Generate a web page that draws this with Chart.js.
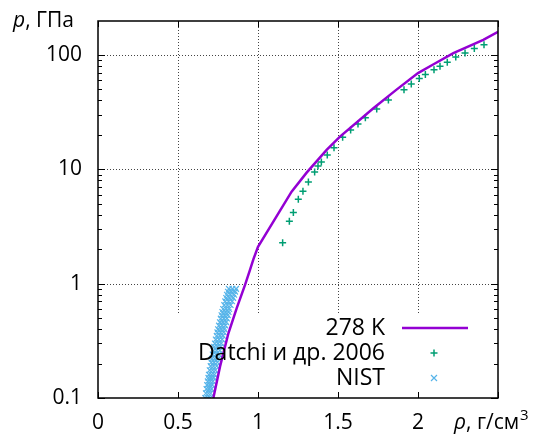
<!DOCTYPE html>
<html>
<head>
<meta charset="utf-8">
<script src="https://cdn.jsdelivr.net/npm/chart.js@4.4.1/dist/chart.umd.min.js"></script>
<style>
html,body{margin:0;padding:0;background:#fff;}
canvas{display:block;}
</style>
</head>
<body>
<canvas id="c" width="542" height="439"></canvas>
<script>
// ---- data ----
const rho278 = [0.721, 0.7625, 0.815, 0.867, 0.919, 0.95, 0.971, 1.0, 1.21, 1.304, 1.429, 1.5125, 1.721, 1.86, 2.0, 2.1, 2.221, 2.408, 2.5];
const p278   = [0.1,   0.188,  0.368, 0.61,  0.975, 1.32, 1.63,  2.1, 6.38, 9.35,  14.8,  19.3,   34.2,  49.0, 69.4, 83.3, 103.8, 135.5, 159];

const datchiRho = [1.154, 1.196, 1.221, 1.252, 1.281, 1.315, 1.354, 1.375, 1.396, 1.433, 1.475, 1.529, 1.579, 1.625, 1.671, 1.742, 1.815, 1.9125, 1.958, 2.008, 2.046, 2.1, 2.1375, 2.183, 2.236, 2.294, 2.352, 2.4125];
const datchiP   = [2.28,  3.52,  4.18,  5.47,  6.43,  7.76,  9.49,  10.7,  11.6,  13.3,  15.4,  19.1,  22.1,  24.9,  28.2,  33.7,  40.4,  49.5,   55.8,  62.2,  67.5,  74.2, 79.8,   86.5,  95.7,  104,   114,   123];

const nistRho = [
  0.670,0.686,0.700, 0.674,0.690,0.705, 0.678,0.694,0.710, 0.682,0.698,0.714, 0.686,0.702,0.718,
  0.690,0.706,0.722, 0.693,0.710,0.727, 0.698,0.716,0.734, 0.704,0.722,0.742, 0.708,0.726,0.746,
  0.712,0.730,0.750, 0.717,0.736,0.756, 0.722,0.741,0.761, 0.726,0.746,0.766, 0.730,0.750,0.770,
  0.736,0.756,0.776, 0.742,0.762,0.781, 0.746,0.766,0.786, 0.750,0.770,0.790, 0.756,0.776,0.796,
  0.762,0.781,0.801, 0.767,0.787,0.806, 0.772,0.792,0.811, 0.777,0.797,0.816, 0.782,0.801,0.820,
  0.789,0.809,0.829, 0.795,0.816,0.838, 0.801,0.822,0.845, 0.806,0.828,0.851, 0.812,0.834,0.857,
  0.818,0.840,0.863
];
const nistP = [
  0.100,0.100,0.100, 0.110,0.110,0.110, 0.120,0.120,0.120, 0.130,0.130,0.130, 0.140,0.140,0.140,
  0.150,0.150,0.150, 0.160,0.160,0.160, 0.175,0.175,0.175, 0.190,0.190,0.190, 0.205,0.205,0.205,
  0.220,0.220,0.220, 0.240,0.240,0.240, 0.260,0.260,0.260, 0.280,0.280,0.280, 0.300,0.300,0.300,
  0.325,0.325,0.325, 0.350,0.350,0.350, 0.375,0.375,0.375, 0.400,0.400,0.400, 0.430,0.430,0.430,
  0.460,0.460,0.460, 0.495,0.495,0.495, 0.530,0.530,0.530, 0.565,0.565,0.565, 0.600,0.600,0.600,
  0.650,0.650,0.650, 0.700,0.700,0.700, 0.750,0.750,0.750, 0.800,0.800,0.800, 0.850,0.850,0.850,
  0.900,0.900,0.900
];

const xTickValues = [0, 0.5, 1, 1.5, 2, 2.5];
const xTickLabels = ['0', '0.5', '1', '1.5', '2', ''];
const yTickValues = [0.1, 1, 10, 100];
const yTickLabels = ['0.1', '1', '10', '100'];
const seriesNames = ['278 K', 'Datchi и др. 2006', 'NIST'];

// ---- styles ----
const FONT = '"Open Sans", "DejaVu Sans", sans-serif';
const PURPLE = '#9400d3', GREEN = '#009e73', BLUE = '#56b4e9';

const toXY = (xs, ys) => xs.map((x, i) => ({x: x, y: ys[i]}));

const framePlugin = {
  id: 'frame',
  beforeDatasetsDraw(chart) {
    const ctx = chart.ctx, a = chart.chartArea;
    const xs = chart.scales.x, ys = chart.scales.y;
    ctx.save();
    ctx.strokeStyle = '#444';
    ctx.lineWidth = 1;
    ctx.setLineDash([1, 2]);
    xTickValues.forEach(v => {
      const px = Math.round(xs.getPixelForValue(v)) + 0.5;
      if (px <= a.left + 1 || px >= a.right - 1) return;
      ctx.beginPath(); ctx.moveTo(px, a.top); ctx.lineTo(px, a.bottom); ctx.stroke();
    });
    yTickValues.forEach(v => {
      const py = Math.round(ys.getPixelForValue(v)) + 0.5;
      if (py <= a.top + 1 || py >= a.bottom - 1) return;
      ctx.beginPath(); ctx.moveTo(a.left, py); ctx.lineTo(a.right, py); ctx.stroke();
    });
    ctx.setLineDash([]);
    // opaque key box
    ctx.fillStyle = '#fff';
    ctx.fillRect(a.left + 3, 315, a.right - a.left - 6, a.bottom - 315 - 1);
    ctx.restore();
  },
  afterDatasetsDraw(chart) {
    const ctx = chart.ctx, a = chart.chartArea;
    const xs = chart.scales.x, ys = chart.scales.y;
    ctx.save();
    ctx.strokeStyle = '#000';
    ctx.lineWidth = 1;
    const decades = [0.1, 1, 10, 100];
    decades.forEach(d => {
      for (let m = 1; m <= 9; m++) {
        const v = d * m;
        if (v > ys.max) continue;
        const py = Math.round(ys.getPixelForValue(v)) + 0.5;
        const len = m === 1 ? 7 : 4;
        ctx.beginPath();
        ctx.moveTo(a.left, py); ctx.lineTo(a.left + len, py);
        ctx.moveTo(a.right, py); ctx.lineTo(a.right - len, py);
        ctx.stroke();
      }
    });
    xTickValues.forEach(v => {
      const px = Math.round(xs.getPixelForValue(v)) + 0.5;
      ctx.beginPath();
      ctx.moveTo(px, a.bottom); ctx.lineTo(px, a.bottom - 6);
      ctx.moveTo(px, a.top); ctx.lineTo(px, a.top + 6);
      ctx.stroke();
    });
    ctx.lineWidth = 1.5;
    ctx.strokeRect(a.left, a.top, a.right - a.left, a.bottom - a.top);

    // key
    ctx.fillStyle = '#000';
    ctx.font = '23px ' + FONT;
    ctx.textAlign = 'right';
    ctx.textBaseline = 'alphabetic';
    const keyX = 385;
    const rows = [335, 360, 385];
    seriesNames.forEach((n, i) => ctx.fillText(n, keyX, rows[i]));
    ctx.strokeStyle = PURPLE; ctx.lineWidth = 2.5;
    ctx.beginPath(); ctx.moveTo(402, 328); ctx.lineTo(468, 328); ctx.stroke();
    ctx.strokeStyle = GREEN; ctx.lineWidth = 1.5;
    ctx.beginPath(); ctx.moveTo(434 - 3.5, 353); ctx.lineTo(434 + 3.5, 353);
    ctx.moveTo(434, 353 - 3.5); ctx.lineTo(434, 353 + 3.5); ctx.stroke();
    ctx.strokeStyle = BLUE; ctx.lineWidth = 1.2;
    ctx.beginPath(); ctx.moveTo(431, 375); ctx.lineTo(437, 381);
    ctx.moveTo(437, 375); ctx.lineTo(431, 381); ctx.stroke();

    // axis titles
    ctx.fillStyle = '#000';
    ctx.textAlign = 'left';
    ctx.font = 'italic 21px ' + FONT;
    let x0 = 13;
    ctx.fillText('p', x0, 27);
    x0 += ctx.measureText('p').width;
    ctx.font = '21px ' + FONT;
    ctx.fillText(', ГПа', x0, 27);

    ctx.font = 'italic 21px ' + FONT;
    x0 = 454;
    ctx.fillText('ρ', x0, 429);
    x0 += ctx.measureText('ρ').width;
    ctx.font = '21px ' + FONT;
    ctx.fillText(', г/см', x0, 429);
    x0 += ctx.measureText(', г/см').width;
    ctx.font = '15px ' + FONT;
    ctx.fillText('3', x0 + 1, 420);
    ctx.restore();
  }
};

new Chart(document.getElementById('c'), {
  type: 'scatter',
  data: {
    datasets: [
      {
        label: seriesNames[0],
        data: toXY(rho278, p278),
        showLine: true,
        borderColor: PURPLE,
        borderWidth: 2.5,
        pointRadius: 0,
        tension: 0
      },
      {
        label: seriesNames[1],
        data: toXY(datchiRho, datchiP),
        pointStyle: 'cross',
        pointRadius: 3.5,
        borderColor: GREEN,
        backgroundColor: GREEN,
        borderWidth: 1.5
      },
      {
        label: seriesNames[2],
        data: toXY(nistRho, nistP),
        pointStyle: 'crossRot',
        pointRadius: 4,
        borderColor: BLUE,
        backgroundColor: BLUE,
        borderWidth: 1.2
      }
    ]
  },
  options: {
    responsive: false,
    devicePixelRatio: 1,
    animation: false,
    layout: {padding: {top: 21, right: 44, left: 0, bottom: 0}},
    plugins: {legend: {display: false}, tooltip: {enabled: false}},
    scales: {
      x: {
        type: 'linear', min: 0, max: 2.5,
        grid: {display: false, drawTicks: false},
        border: {display: false},
        afterBuildTicks: s => { s.ticks = xTickValues.map(v => ({value: v})); },
        afterFit: s => { s.height = 41; s.paddingLeft = 0; s.paddingRight = 0; },
        ticks: {
          autoSkip: false, maxRotation: 0, padding: 12,
          color: '#000', font: {family: FONT, size: 21},
          callback: (v, i) => xTickLabels[i]
        }
      },
      y: {
        type: 'logarithmic', min: 0.1, max: 198,
        grid: {display: false, drawTicks: false},
        border: {display: false},
        afterBuildTicks: s => { s.ticks = yTickValues.map(v => ({value: v})); },
        afterFit: s => { s.width = 98; s.paddingTop = 0; s.paddingBottom = 0; },
        ticks: {
          autoSkip: false, padding: 16,
          color: '#000', font: {family: FONT, size: 21},
          callback: (v, i) => yTickLabels[i]
        }
      }
    }
  },
  plugins: [framePlugin]
});
</script>
</body>
</html>
